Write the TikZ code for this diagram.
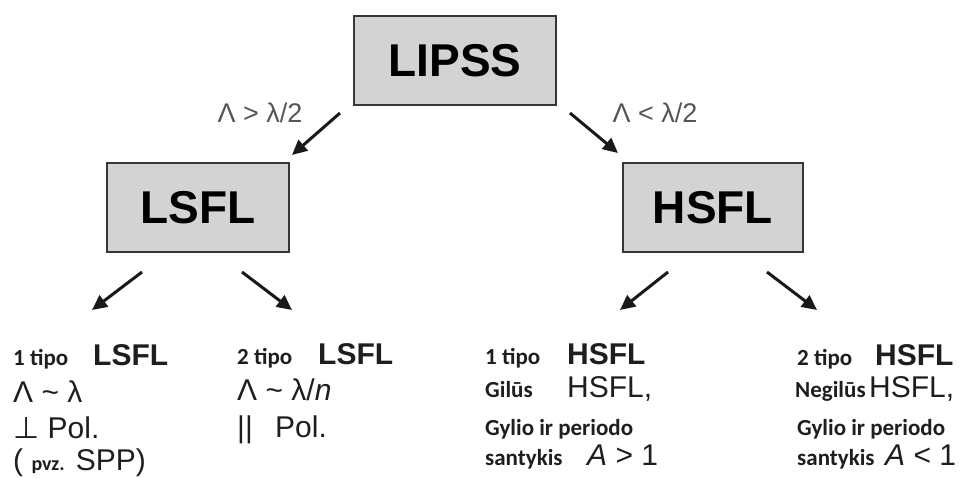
\documentclass[tikz,border=0pt]{standalone}
\usepackage{fontspec}
\setmainfont{Liberation Sans}
\newfontfamily\cbfont{Carlito}
\newfontfamily\dvfont{DejaVu Sans}
\usetikzlibrary{arrows.meta}
\definecolor{boxfill}{RGB}{211,211,211}
\definecolor{boxline}{RGB}{55,55,55}
\definecolor{txt}{RGB}{30,30,30}
\definecolor{lbl}{RGB}{85,85,85}
\tikzset{
  bigbox/.style={draw=boxline, line width=2.5pt, fill=boxfill, minimum height=89pt, inner sep=0pt,
    font=\fontsize{46}{46}\selectfont\bfseries, text=black},
  arr/.style={line width=3pt, -{Triangle[length=15pt,width=14pt]}, black!90},
  cond/.style={font=\fontsize{27}{27}\selectfont, text=lbl, inner sep=0pt},
  small/.style={anchor=base west, inner sep=0pt, text=txt, font=\cbfont\fontsize{23}{23}\selectfont\bfseries},
  big/.style={anchor=base west, inner sep=0pt, text=txt, font=\fontsize{30}{30}\selectfont},
  bigb/.style={anchor=base west, inner sep=0pt, text=txt, font=\fontsize{30}{30}\selectfont\bfseries}
}
\begin{document}
\begin{tikzpicture}[x=1pt,y=-1pt]
\useasboundingbox (0,0) rectangle (979,477);
% boxes
\node[bigbox, minimum width=202pt] (lipss) at (455,60.5) {LIPSS};
\node[bigbox, minimum width=182pt] (lsfl) at (198,207.5) {LSFL};
\node[bigbox, minimum width=180pt] (hsfl) at (713,207.5) {HSFL};
% condition labels
\node[cond] (cl) at (260,113) {Λ > λ/2};
\node[cond] (cr) at (655,113) {Λ < λ/2};
% arrow coordinates
\coordinate (a1s) at (340,113); \coordinate (a1e) at (292,155);
\coordinate (a2s) at (570,113); \coordinate (a2e) at (618,153);
\coordinate (a3s) at (142,272); \coordinate (a3e) at (92,310);
\coordinate (a4s) at (242,272); \coordinate (a4e) at (292,310);
\coordinate (a5s) at (668,272); \coordinate (a5e) at (620,310);
\coordinate (a6s) at (767,272); \coordinate (a6e) at (817,310);
\draw[arr] (a1s) -- (a1e);
\draw[arr] (a2s) -- (a2e);
\draw[arr] (a3s) -- (a3e);
\draw[arr] (a4s) -- (a4e);
\draw[arr] (a5s) -- (a5e);
\draw[arr] (a6s) -- (a6e);
% column 1
\node[small] (c1a) at (13,365) {1 tipo};
\node[bigb] (c1b) at (93,365) {LSFL};
\node[big] (c1c) at (13,402) {Λ \textasciitilde{} λ};
\node[big] (c1d) at (13,438) {{\dvfont ⊥} Pol.};
\node[big] (c1e) at (13,470) {( {\cbfont\bfseries\fontsize{20}{20}\selectfont pvz.} SPP)};
% column 2
\node[small] (c2a) at (237,364) {2 tipo};
\node[bigb] (c2b) at (318,364) {LSFL};
\node[big] (c2c) at (237,400) {Λ \textasciitilde{} λ/{\itshape n}};
\node[big] (c2d) at (237,437) {||};
\node[big] (c2e) at (275,437) {Pol.};
% column 3
\node[small] (c3a) at (485,364) {1 tipo};
\node[bigb] (c3b) at (567,364) {HSFL};
\node[small] (c3c) at (485,397) {Gilūs};
\node[big] (c3d) at (567,397) {HSFL,};
\node[small] (c3e) at (485,435) {Gylio ir periodo};
\node[small] (c3f) at (485,465) {santykis};
\node[big] (c3g) at (587,465) {{\itshape A} > 1};
% column 4
\node[small] (c4a) at (797,365) {2 tipo};
\node[bigb] (c4b) at (875,365) {HSFL};
\node[small] (c4c) at (795,397) {Negilūs};
\node[big] (c4d) at (869,397) {HSFL,};
\node[small] (c4e) at (797,435) {Gylio ir periodo};
\node[small] (c4f) at (797,465) {santykis};
\node[big] (c4g) at (885,465) {{\itshape A} < 1};
\end{tikzpicture}
\end{document}
